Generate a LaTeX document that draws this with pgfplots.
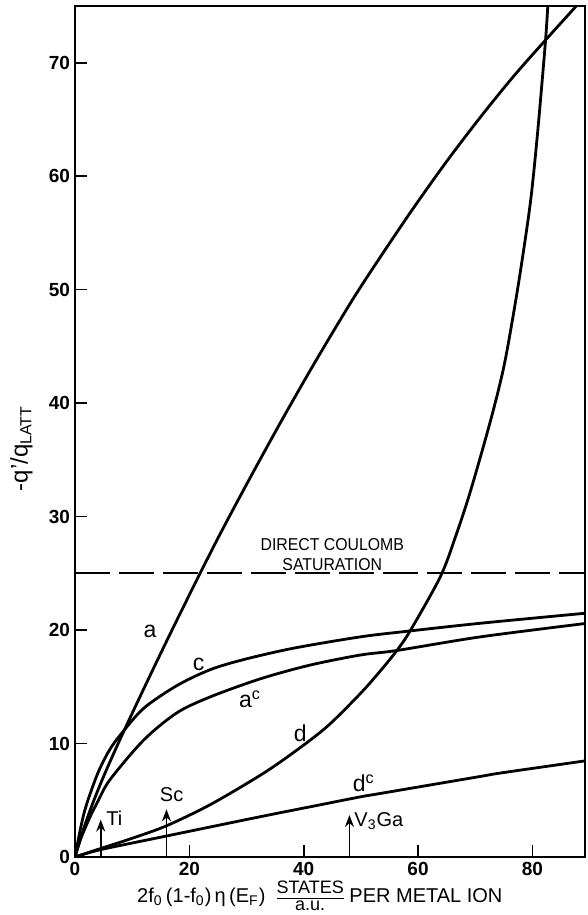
\documentclass[border=0pt]{standalone}
\usepackage{fontspec}
\setmainfont{Liberation Sans}
\usepackage{graphicx}
\usepackage{pgfplots}
\pgfplotsset{compat=1.18}
\usetikzlibrary{arrows.meta}

\pgfplotstableread{
x y
0 0
1 1.7
2 3.2
3 4.6
5 7.1
8 10.5
12 14.8
16 19.0
20 23.1
25 28.1
30.5 33.3
36.4 38.7
42.2 43.8
48.4 49.0
53.3 52.8
59.2 57.2
65 61.3
70.9 65.2
76.7 68.8
82.3 72.0
87.5 74.9
88.2 75.3
}\curveA

\pgfplotstableread{
x y
0 0
1 2.6
2 4.6
4 7.4
6 9.4
8 10.8
12 13.1
17.8 15.1
23.6 16.5
29.5 17.4
38.2 18.4
49.9 19.4
58.2 19.9
70.9 20.6
89.6 21.5
}\curveC

\pgfplotstableread{
x y
0 0
1 1.6
2.6 3.5
4 4.9
6.1 6.8
12 10.3
17.8 12.7
23.6 14.1
32.4 15.7
41 16.9
49.9 17.8
56.3 18.2
70.9 19.4
89.6 20.6
}\curveAc

\pgfplotstableread{
x y
0 0
4.5 0.75
10 1.65
16 2.75
23.6 4.6
32.4 7.2
38.2 9.2
44.1 11.5
49.9 14.4
53.4 16.4
56.3 18.2
58.7 20.0
63.9 24.7
66.6 28.3
69.2 32.3
72.7 38.5
75 43.2
76.8 48.2
78.2 52.6
79.7 57.9
80.9 63.8
82.3 72.0
82.8 76
}\curveD

\pgfplotstableread{
x y
0 0
4.5 0.65
16 1.85
32.4 3.55
42.9 4.6
49.9 5.3
53.4 5.6
70.9 7.1
74.4 7.4
89.6 8.5
}\curveDc

\begin{document}
\begin{tikzpicture}
\begin{axis}[
  name=ax,
  scale only axis,
  width=255pt, height=425.5pt,
  xmin=0, xmax=89.2, ymin=0, ymax=75,
  axis line style={line width=1pt},
  xtick={0,20,40,60,80},
  ytick={0,10,20,30,40,50,60,70},
  tick align=inside,
  xtick pos=left, ytick pos=left,
  major tick length=6pt,
  tick style={line width=0.8pt, black},
  /pgf/number format/assume math mode=true,
  ticklabel style={font=\fontsize{9.5}{10}\selectfont\bfseries},
  yticklabel style={xshift=1pt},
  xticklabel style={yshift=1pt},
  xlabel={2f\textsubscript{0}\,(1-f\textsubscript{0})\,η\,(E\textsubscript{F})\ \ {\fontsize{9}{10}\selectfont\renewcommand\arraystretch{0.82}\begin{tabular}[c]{@{}c@{}}STATES\\\hline a.u.\end{tabular}}\ PER METAL ION},
  xlabel style={font=\fontsize{10}{12}\selectfont, at={(axis description cs:0.48,0)}, anchor=center, yshift=-20.6pt, inner sep=0pt},
  ylabel={-q'/q\textsubscript{LATT}},
  ylabel style={font=\fontsize{12}{13}\selectfont, at={(axis description cs:-0.105,0.48)}, anchor=center},
  every axis plot/.append style={no markers},
  clip=true,
]
\addplot[line width=1.4pt, smooth] table {\curveA};
\addplot[line width=1.4pt, smooth] table {\curveC};
\addplot[line width=1.4pt, smooth] table {\curveAc};
\addplot[line width=1.4pt, smooth] table {\curveD};
\addplot[line width=1.4pt, smooth] table {\curveDc};
\addplot[line width=1pt, dash pattern=on 17.5pt off 4.5pt] coordinates {(0,25) (89.2,25)};

\addplot[line width=0.9pt, -{Stealth[length=6pt,width=4.5pt]}] coordinates {(4.5,0) (4.5,3.3)};
\addplot[line width=0.9pt, -{Stealth[length=6pt,width=4.5pt]}] coordinates {(16,0) (16,4.2)};
\addplot[line width=0.9pt, -{Stealth[length=6pt,width=4.5pt]}] coordinates {(48,0) (48,3.7)};

\node[font=\fontsize{11.5}{12}\selectfont] at (axis cs:13.1,19.9) {a};
\node[font=\fontsize{11.5}{12}\selectfont] at (axis cs:21.6,17.0) {c};
\node[font=\fontsize{11.5}{12}\selectfont] at (axis cs:30.6,13.9) {a\textsuperscript{c}};
\node[font=\fontsize{11.5}{12}\selectfont] at (axis cs:39.4,10.9) {d};
\node[font=\fontsize{11.5}{12}\selectfont] at (axis cs:50.5,6.5) {d\textsuperscript{c}};
\node[font=\fontsize{10}{11}\selectfont, anchor=west, inner sep=0pt] at (axis cs:5.4,3.4) {Ti};
\node[font=\fontsize{10}{11}\selectfont, anchor=south, inner sep=0pt] at (axis cs:16.9,4.8) {Sc};
\node[font=\fontsize{10}{11}\selectfont, anchor=west, inner sep=0pt] at (axis cs:48.8,3.2) {V\textsubscript{3}Ga};
\node[font=\fontsize{8.6}{9.8}\selectfont, align=center, anchor=south, inner sep=0pt] at (axis cs:45,25.2) {\scalebox{0.92}[1]{DIRECT COULOMB}\\\scalebox{0.92}[1]{SATURATION}};
\end{axis}
\pgfresetboundingbox
\path ([xshift=-37.5pt,yshift=-29pt]ax.south west) rectangle ([xshift=1pt,yshift=3pt]ax.north east);
\end{tikzpicture}
\end{document}
